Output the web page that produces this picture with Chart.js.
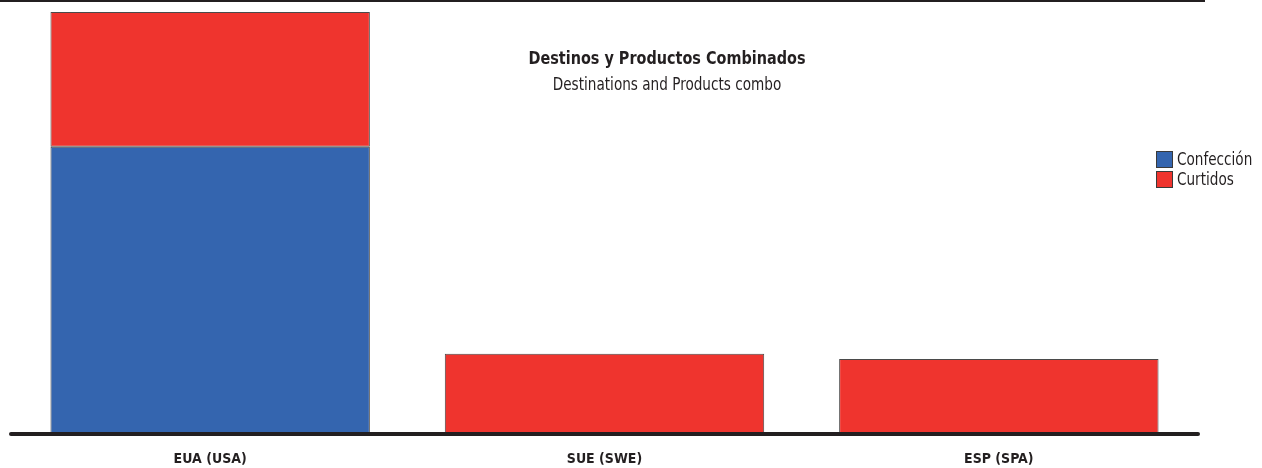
<!DOCTYPE html>
<html>
<head>
<meta charset="utf-8">
<script src="https://cdn.jsdelivr.net/npm/chart.js@4.4.1/dist/chart.umd.min.js"></script>
<style>
  html, body { margin: 0; padding: 0; background: #fff; }
  #wrap { width: 1262px; height: 468px; }
</style>
</head>
<body>
<div id="wrap"><canvas id="combo"></canvas></div>
<script>
// Data (share of the USA total = 100)
const categories = ['EUA (USA)', 'SUE (SWE)', 'ESP (SPA)'];
const confeccion = [68, null, null];
const curtidos = [32, 18.8, 17.6];
const titleText = 'Destinos y Productos Combinados';
const subtitleText = 'Destinations and Products combo';

const FONT = "'DejaVu Sans Condensed', 'Liberation Sans Narrow', sans-serif";
const INK = '#231f20';

// draw text squeezed horizontally to imitate the narrow face of the original
function narrowText(ctx, text, x, y, squeeze) {
  ctx.save();
  ctx.translate(x, y);
  ctx.scale(squeeze, 1);
  ctx.fillText(text, 0, 0);
  ctx.restore();
}

// Top rule, baseline, title block and legend drawn on the canvas
const decorPlugin = {
  id: 'decor',
  afterDraw(chart) {
    const ctx = chart.ctx;
    const area = chart.chartArea;
    ctx.save();

    // top rule
    ctx.fillStyle = INK;
    ctx.fillRect(0, 0, 1205, 2);

    // thick baseline with round ends
    ctx.strokeStyle = INK;
    ctx.lineWidth = 4;
    ctx.lineCap = 'round';
    ctx.beginPath();
    ctx.moveTo(area.left - 2, area.bottom + 1);
    ctx.lineTo(area.right + 2, area.bottom + 1);
    ctx.stroke();

    // title block
    ctx.fillStyle = INK;
    ctx.textAlign = 'center';
    ctx.textBaseline = 'middle';
    ctx.font = 'bold 18px ' + FONT;
    narrowText(ctx, titleText, 667, 59, 0.89);
    ctx.font = '17px ' + FONT;
    narrowText(ctx, subtitleText, 667, 86, 0.89);

    // legend
    ctx.textAlign = 'left';
    ctx.font = '18px ' + FONT;
    chart.data.datasets.forEach((ds, i) => {
      const y = 151 + i * 20;
      ctx.fillStyle = ds.backgroundColor;
      ctx.fillRect(1156, y, 17, 17);
      ctx.strokeStyle = '#3a3a3a';
      ctx.lineWidth = 1;
      ctx.strokeRect(1156.5, y + 0.5, 16, 16);
      ctx.fillStyle = INK;
      narrowText(ctx, ds.label, 1177, y + 9, 0.84);
    });

    ctx.restore();
  }
};

new Chart(document.getElementById('combo'), {
  type: 'bar',
  data: {
    labels: categories,
    datasets: [
      {
        label: 'Confección',
        data: confeccion,
        backgroundColor: '#3465af',
        borderColor: '#4a4a4a',
        borderWidth: 1,
        borderSkipped: false,
        barPercentage: 0.81,
        categoryPercentage: 1
      },
      {
        label: 'Curtidos',
        data: curtidos,
        backgroundColor: '#ef342e',
        borderColor: '#4a4a4a',
        borderWidth: 1,
        borderSkipped: false,
        barPercentage: 0.81,
        categoryPercentage: 1
      }
    ]
  },
  options: {
    responsive: true,
    maintainAspectRatio: false,
    animation: false,
    layout: { padding: { left: 13, right: 66, top: 12, bottom: 1 } },
    plugins: {
      legend: { display: false },
      title: { display: false },
      tooltip: { enabled: false }
    },
    scales: {
      x: {
        stacked: true,
        grid: { display: false },
        border: { display: false },
        afterFit(scale) { scale.height = 34; },
        ticks: {
          color: INK,
          padding: 10,
          font: { family: FONT, size: 14, weight: 'bold' }
        }
      },
      y: {
        stacked: true,
        display: false,
        min: 0,
        max: 100
      }
    }
  },
  plugins: [decorPlugin]
});
</script>
</body>
</html>
